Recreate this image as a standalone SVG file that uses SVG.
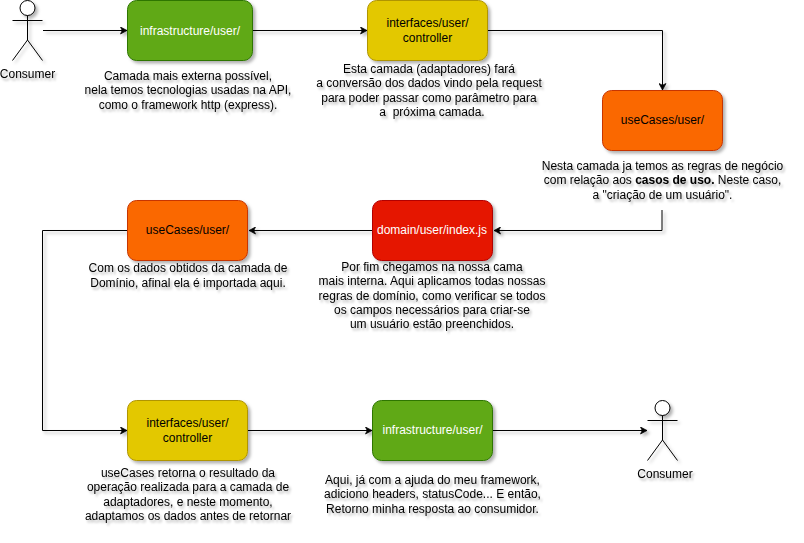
<svg xmlns="http://www.w3.org/2000/svg" width="804" height="543" viewBox="0 0 804 543">
<style>
text{font-family:"Liberation Sans",Arial,sans-serif;font-size:12px;text-anchor:middle;fill:#000;white-space:pre}
.n rect{stroke-width:1;filter:url(#s)}
.w{fill:#fff}
.t{filter:url(#ts)}
.c{filter:url(#cs)}
.c path{fill:none;stroke:#000;stroke-width:1;marker-end:url(#arr)}
.p *{fill:none;stroke:#000;stroke-width:1}
.p circle{fill:#fff}
.p{filter:url(#s)}
.g{fill:#60a917;stroke:#2d7600}
.y{fill:#e3c800;stroke:#b09500}
.o{fill:#fa6800;stroke:#c73500}
.r{fill:#e51400;stroke:#b20000}
</style>
<defs>
<filter id="s" x="-20%" y="-20%" width="150%" height="150%"><feDropShadow dx="2.5" dy="2.5" stdDeviation="1.6" flood-color="#000" flood-opacity="0.3"/></filter>
<filter id="cs" filterUnits="userSpaceOnUse" x="0" y="0" width="804" height="543"><feDropShadow dx="2.5" dy="2.5" stdDeviation="1.6" flood-color="#000" flood-opacity="0.3"/></filter>
<filter id="ts" x="-10%" y="-20%" width="120%" height="150%"><feDropShadow dx="2" dy="2.5" stdDeviation="1.3" flood-color="#000" flood-opacity="0.3"/></filter>
<marker id="arr" markerUnits="userSpaceOnUse" viewBox="0 0 8 8" refX="7" refY="4" markerWidth="8" markerHeight="8" orient="auto"><path d="M0.5 0.500L7 4L0.5 7.500L2.200 4Z" fill="#000" stroke="#000" stroke-width="0.7"/></marker>
</defs>
<rect width="804" height="543" fill="#fff"/>
<g id="connectors" class="c">
<path d="M43 30.500H127"/>
<path d="M253 30.500H367"/>
<path d="M488 30.500H662.500V90"/>
<path d="M662 210V230.500H494"/>
<path d="M372 230.500H249"/>
<path d="M127 230.500H42.500V430.500H127" style="marker-end:url(#arr)"/>
<path d="M248 430.500H372"/>
<path d="M493 430.500H647"/>
</g>
<g id="actor1" class="p"><circle cx="27.500" cy="8" r="7.500"/><path d="M27.500 15.500V40M12.500 20.500H42.500M27.500 40L12.500 60.500M27.500 40L42.500 60.500"/></g>
<g id="actor1-label" class="t"><text x="27.500" y="78">Consumer</text></g>
<g id="n1" class="n"><rect class="g" x="127.500" y="0.500" width="125" height="60" rx="9"/><text class="w" x="190" y="34.500">infrastructure/user/</text></g>
<g id="n1-text" class="t"><text x="188" y="80">Camada mais externa possível,</text><text x="188" y="94">nela temos tecnologias usadas na API,</text><text x="188" y="109">como o framework http (express).</text></g>
<g id="n2" class="n"><rect class="y" x="367.500" y="0.500" width="120" height="60" rx="9"/><text x="427.500" y="27">interfaces/user/</text><text x="427.500" y="42">controller</text></g>
<g id="n2-text" class="t"><text x="429" y="73">Esta camada (adaptadores) fará</text><text x="429" y="87">a conversão dos dados vindo pela request</text><text x="429" y="102">para poder passar como parâmetro para</text><text x="432" y="116">a  próxima camada.</text></g>
<g id="n3" class="n"><rect class="o" x="602.500" y="90.500" width="120" height="60" rx="9"/><text x="662.500" y="124">useCases/user/</text></g>
<g id="n3-text" class="t"><text x="662.500" y="170">Nesta camada ja temos as regras de negócio</text><text x="662.500" y="184">com relação aos <tspan font-weight="bold">casos de uso.</tspan> Neste caso,</text><text x="662.500" y="199">a "criação de um usuário".</text></g>
<g id="n4" class="n"><rect class="r" x="372.500" y="200.500" width="120" height="60" rx="9"/><text class="w" x="432" y="234">domain/user/index.js</text></g>
<g id="n4-text" class="t"><text x="432" y="271">Por fim chegamos na nossa cama</text><text x="432" y="285">mais interna. Aqui aplicamos todas nossas</text><text x="432" y="300">regras de domínio, como verificar se todos</text><text x="432" y="314">os campos necessários para criar-se</text><text x="432" y="328">um usuário estão preenchidos.</text></g>
<g id="n5" class="n"><rect class="o" x="127.500" y="200.500" width="120" height="60" rx="9"/><text x="187.500" y="234">useCases/user/</text></g>
<g id="n5-text" class="t"><text x="188" y="272">Com os dados obtidos da camada de</text><text x="188" y="287">Domínio, afinal ela é importada aqui.</text></g>
<g id="n6" class="n"><rect class="y" x="127.500" y="400.500" width="120" height="60" rx="9"/><text x="187.500" y="427">interfaces/user/</text><text x="187.500" y="442">controller</text></g>
<g id="n6-text" class="t"><text x="188" y="477">useCases retorna o resultado da</text><text x="188" y="491">operação realizada para a camada de</text><text x="188" y="506">adaptadores, e neste momento,</text><text x="188" y="520">adaptamos os dados antes de retornar</text></g>
<g id="n7" class="n"><rect class="g" x="372.500" y="400.500" width="120" height="60" rx="9"/><text class="w" x="432.500" y="434">infrastructure/user/</text></g>
<g id="n7-text" class="t"><text x="432.500" y="484">Aqui, já com a ajuda do meu framework,</text><text x="432.500" y="498">adiciono headers, statusCode... E então,</text><text x="432.500" y="513">Retorno minha resposta ao consumidor.</text></g>
<g id="actor2" class="p"><circle cx="662.500" cy="408" r="7.500"/><path d="M662.500 415.500V440M647.500 420.500H677.500M662.500 440L647.500 460.500M662.500 440L677.500 460.500"/></g>
<g id="actor2-label" class="t"><text x="665" y="478">Consumer</text></g>
</svg>
